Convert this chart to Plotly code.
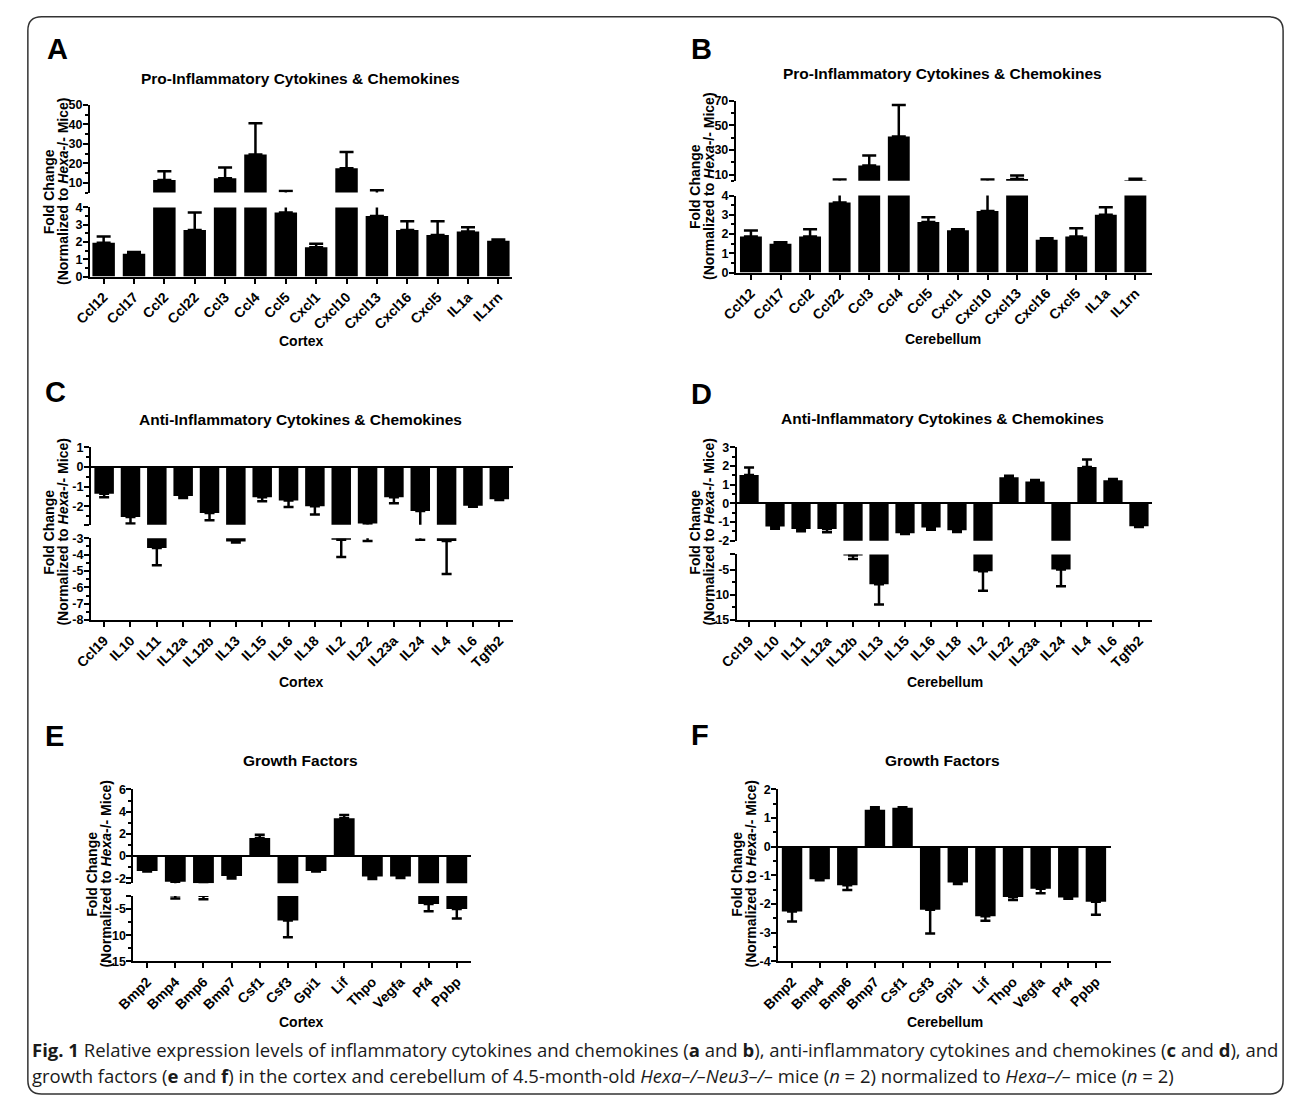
import plotly.graph_objects as go

W, H = 1290, 1103

# ---------------- data ----------------
a_genes = ["Ccl12", "Ccl17", "Ccl2", "Ccl22", "Ccl3", "Ccl4", "Ccl5", "Cxcl1", "Cxcl10",
           "Cxcl13", "Cxcl16", "Cxcl5", "IL1a", "IL1rn"]
a_vals = [1.95, 1.32, 11.5, 2.7, 12.3, 24.5, 3.7, 1.7, 17.5, 3.5, 2.7, 2.4, 2.6, 2.07]
a_errs = [0.37, 0.1, 4.4, 1.0, 5.5, 16.0, 2.15, 0.2, 8.3, 2.7, 0.5, 0.8, 0.25, 0.08]

b_genes = a_genes
b_vals = [1.88, 1.5, 1.88, 3.64, 17.5, 41.0, 2.63, 2.2, 3.2, 6.5, 1.7, 1.88, 3.0, 5.4]
b_errs = [0.3, 0.08, 0.37, 2.36, 8.0, 25.5, 0.25, 0.05, 2.8, 2.7, 0.08, 0.42, 0.4, 1.2]

c_genes = ["Ccl19", "IL10", "IL11", "IL12a", "IL12b", "IL13", "IL15", "IL16", "IL18", "IL2",
           "IL22", "IL23a", "IL24", "IL4", "IL6", "Tgfb2"]
c_vals = [-1.37, -2.55, -3.6, -1.48, -2.35, -3.2, -1.55, -1.71, -2.0, -3.1, -2.88, -1.55,
          -2.25, -3.18, -1.98, -1.65]
c_errs = [0.17, 0.33, 1.05, 0.1, 0.36, 0.06, 0.2, 0.33, 0.42, 1.05, 0.3, 0.3, 0.85, 2.0,
          0.05, 0.04]

d_genes = c_genes
d_vals = [1.52, -1.24, -1.38, -1.38, -2.2, -7.9, -1.6, -1.3, -1.44, -5.3, 1.4, 1.17, -5.0,
          1.95, 1.23, -1.23]
d_errs = [0.4, 0.12, 0.12, 0.17, 0.7, 4.0, 0.05, 0.12, 0.1, 3.9, 0.08, 0.08, 3.3, 0.4,
          0.08, 0.04]

e_genes = ["Bmp2", "Bmp4", "Bmp6", "Bmp7", "Csf1", "Csf3", "Gpi1", "Lif", "Thpo", "Vegfa",
           "Pf4", "Ppbp"]
e_vals = [-1.34, -2.32, -2.45, -1.8, 1.63, -7.2, -1.35, 3.4, -1.85, -1.85, -4.0, -5.0]
e_errs = [0.05, 0.65, 0.65, 0.22, 0.28, 3.2, 0.05, 0.3, 0.22, 0.12, 1.4, 1.8]

f_genes = e_genes
f_vals = [-2.26, -1.14, -1.35, 1.29, 1.36, -2.2, -1.25, -2.43, -1.76, -1.47, -1.77, -1.92]
f_errs = [0.35, 0.03, 0.16, 0.09, 0.02, 0.83, 0.05, 0.16, 0.1, 0.16, 0.05, 0.46]

titles = ["Pro-Inflammatory Cytokines & Chemokines",
          "Anti-Inflammatory Cytokines & Chemokines",
          "Growth Factors"]
regions = ["Cortex", "Cerebellum"]
ytitle1 = "Fold Change"
ytitle2 = "(Normalized to <i>Hexa</i>-/- Mice)"
caption1 = ("<b>Fig. 1</b> Relative expression levels of inflammatory cytokines and chemokines "
            "(<b>a</b> and <b>b</b>), anti-inflammatory cytokines and chemokines "
            "(<b>c</b> and <b>d</b>), and")
caption2 = ("growth factors (<b>e</b> and <b>f</b>) in the cortex and cerebellum of 4.5-month-old "
            "<i>Hexa–/–Neu3–/–</i> mice (<i>n</i> = 2) normalized to <i>Hexa–/–</i> mice "
            "(<i>n</i> = 2)")

# ---------------- styling ----------------
ARIAL = "Liberation Sans, Arial, sans-serif"
tick_font = dict(family=ARIAL, size=12.5, color="black", weight="bold")


def fx(p):
    return p / W


def fy(p):
    return 1 - p / H


fig = go.Figure()
layout = dict(width=W, height=H, margin=dict(l=0, r=0, t=0, b=0),
              paper_bgcolor="white", plot_bgcolor="white", showlegend=False)
annotations = []
counters = {"x": 0, "y": 0}


def aid(kind, n):
    return kind if n == 1 else f"{kind}{n}"


def akey(kind, n):
    return f"{kind}axis" if n == 1 else f"{kind}axis{n}"


def add_panel(genes, vals, errs, xpx, xrange, segs, cap):
    counters["x"] += 1
    xn = counters["x"]
    plus = [e if v > 0 else 0 for v, e in zip(vals, errs)]
    minus = [e if v < 0 else 0 for v, e in zip(vals, errs)]
    first_y = None
    for seg in segs:
        counters["y"] += 1
        yn = counters["y"]
        if first_y is None:
            first_y = yn
        fig.add_trace(go.Bar(
            x=genes, y=vals, xaxis=aid("x", xn), yaxis=aid("y", yn),
            marker=dict(color="black", line=dict(width=0)), width=0.74,
            error_y=dict(type="data", symmetric=False, array=plus, arrayminus=minus,
                         color="black", thickness=2.5, width=cap),
            hoverinfo="skip"))
        top, bot = seg["ypx"]
        ax = dict(domain=[fy(bot), fy(top)], anchor=aid("x", xn), range=seg["range"],
                  showline=True, linecolor="black", linewidth=2, ticks="outside",
                  ticklen=5, tickwidth=2, tickcolor="black",
                  tickmode="array", tickvals=seg["major"], ticktext=seg["labels"],
                  tickfont=tick_font, ticklabelstandoff=-2, showgrid=False,
                  zeroline=seg.get("zero", False), zerolinecolor="black",
                  zerolinewidth=2, fixedrange=True,
                  minor=dict(tickmode="array", tickvals=seg["minor"], ticks="outside",
                             ticklen=3, tickwidth=1.5, tickcolor="black", showgrid=False))
        layout[akey("y", yn)] = ax
    layout[akey("x", xn)] = dict(
        domain=[fx(xpx[0]), fx(xpx[1])], anchor=aid("y", first_y), range=xrange,
        type="category", showline=True, linecolor="black", linewidth=2,
        ticks="outside", ticklen=5, tickwidth=2, tickcolor="black", tickangle=-45,
        tickfont=dict(family=ARIAL, size=14, color="black", weight="bold"),
        showgrid=False, zeroline=False, fixedrange=True)


def rng(a, b, s):
    out = []
    v = a
    while v <= b + 1e-9:
        out.append(round(v, 4))
        v += s
    return out


# Panel A
add_panel(a_genes, a_vals, a_errs, (73, 501), [-0.45, 13.45], [
    dict(range=[0, 4], ypx=(203, 273), major=[0, 1, 2, 3, 4], labels=["0", "1", "2", "3", "4"],
         minor=[0.5, 1.5, 2.5, 3.5]),
    dict(range=[5, 50], ypx=(99, 188), major=[10, 20, 30, 40, 50],
         labels=["10", "20", "30", "40", "50"], minor=[5, 15, 25, 35, 45]),
], cap=7)

# Panel B
add_panel(b_genes, b_vals, b_errs, (728, 1150), [-0.51, 13.56], [
    dict(range=[0, 4], ypx=(191, 269), major=[0, 1, 2, 3, 4], labels=["0", "1", "2", "3", "4"],
         minor=[0.5, 1.5, 2.5, 3.5]),
    dict(range=[5, 70], ypx=(95, 176), major=[10, 30, 50, 70],
         labels=["10", "30", "50", "70"], minor=[5, 20, 40, 60]),
], cap=7)

# Panel C
add_panel(c_genes, c_vals, c_errs, (74, 502), [-0.5, 15.52], [
    dict(range=[-8, -3], ypx=(538, 621), major=[-8, -7, -6, -5, -4, -3],
         labels=["-8", "-7", "-6", "-5", "-4", "-3"], minor=rng(-7.5, -3.5, 1)),
    dict(range=[-2.95, 1], ypx=(446, 524.5), major=[-2.95, -2, -1, 0, 1],
         labels=["", "-2", "-1", "0", "1"], minor=rng(-2.5, 0.5, 1), zero=True),
], cap=5)

# Panel D
add_panel(d_genes, d_vals, d_errs, (729, 1150), [-0.47, 15.5], [
    dict(range=[-15, -2], ypx=(554.5, 621), major=[-15, -10, -5, -2],
         labels=["-15", "-10", "-5", ""], minor=[-12.5, -7.5]),
    dict(range=[-2, 3], ypx=(446, 540.5), major=[-2, -1, 0, 1, 2, 3],
         labels=["-2", "-1", "0", "1", "2", "3"], minor=rng(-1.5, 2.5, 1), zero=True),
], cap=5)

# Panel E
add_panel(e_genes, e_vals, e_errs, (117, 459), [-0.49, 11.49], [
    dict(range=[-15, -2.5], ypx=(900.5, 966.5), major=[-15, -10, -5, -2.5],
         labels=["-15", "-10", "-5", ""], minor=[-12.5, -7.5]),
    dict(range=[-2.45, 6], ypx=(792.5, 887.5), major=[-2.45, -2, 0, 2, 4, 6],
         labels=["", "-2", "0", "2", "4", "6"], minor=[-1, 1, 3, 5], zero=True),
], cap=5)

# Panel F
add_panel(f_genes, f_vals, f_errs, (771, 1108), [-0.5, 11.53], [
    dict(range=[-4, 2], ypx=(792.5, 966.5), major=[-4, -3, -2, -1, 0, 1, 2],
         labels=["-4", "-3", "-2", "-1", "0", "1", "2"], minor=rng(-3.5, 1.5, 1), zero=True),
], cap=5)


# ---------------- text ----------------
def ann(text, xp, yp, size, family=ARIAL, weight="bold", xanchor="center", angle=0,
        color="black"):
    annotations.append(dict(text=text, x=fx(xp), y=fy(yp), xref="paper", yref="paper",
                            xanchor=xanchor, yanchor="middle", showarrow=False,
                            textangle=angle,
                            font=dict(family=family, size=size, color=color, weight=weight)))


# panel letters
for letter, xp, yp in [("A", 27, 43), ("B", 680, 43), ("C", 25, 390), ("D", 680, 392),
                       ("E", 25, 738), ("F", 680, 737)]:
    ann(letter, xp, yp, 29, xanchor="left")

# panel titles
for t, xp, yp in [(titles[0], 287, 72), (titles[0], 938, 67), (titles[1], 287, 418),
                  (titles[1], 938, 417), (titles[2], 287, 763), (titles[2], 938, 763)]:
    ann(t, xp, yp, 15.5)

# region labels
for r, xp, yp in [(regions[0], 288, 338), (regions[1], 938, 336), (regions[0], 288, 684),
                  (regions[1], 940, 684), (regions[0], 288, 1028), (regions[1], 940, 1028)]:
    ann(r, xp, yp, 14)

# y-axis titles (two lines each), placed relative to each y-axis line
for axis_x, yp in [(73, 187), (728, 182), (74, 532), (729, 532), (117, 878), (771, 878)]:
    ann(ytitle1, axis_x - 42, yp, 14, angle=-90)
    ann(ytitle2, axis_x - 28, yp, 14, angle=-90)

# caption
CAP = "Open Sans, Noto Sans, sans-serif"
ann(caption1, 12, 1056, 18.5, family=CAP, weight="normal", xanchor="left", color="#1a1a1a")
ann(caption2, 12, 1082, 18.5, family=CAP, weight="normal", xanchor="left", color="#1a1a1a")

layout["annotations"] = annotations

# rounded border
x0, x1, y0, y1, r = 10, 1283, 10, 1101, 14
pts = (f"M {fx(x0)},{fy(y0 + r)} Q {fx(x0)},{fy(y0)} {fx(x0 + r)},{fy(y0)} "
       f"L {fx(x1 - r)},{fy(y0)} Q {fx(x1)},{fy(y0)} {fx(x1)},{fy(y0 + r)} "
       f"L {fx(x1)},{fy(y1 - r)} Q {fx(x1)},{fy(y1)} {fx(x1 - r)},{fy(y1)} "
       f"L {fx(x0 + r)},{fy(y1)} Q {fx(x0)},{fy(y1)} {fx(x0)},{fy(y1 - r)} Z")
layout["shapes"] = [dict(type="path", path=pts, xref="paper", yref="paper",
                         line=dict(color="#333333", width=1.5), layer="below")]

fig.update_layout(**layout)
fig.write_html("out.html", config={"displayModeBar": False},
               post_script="document.body.style.margin='0';"
                           "document.body.style.overflow='hidden';")
